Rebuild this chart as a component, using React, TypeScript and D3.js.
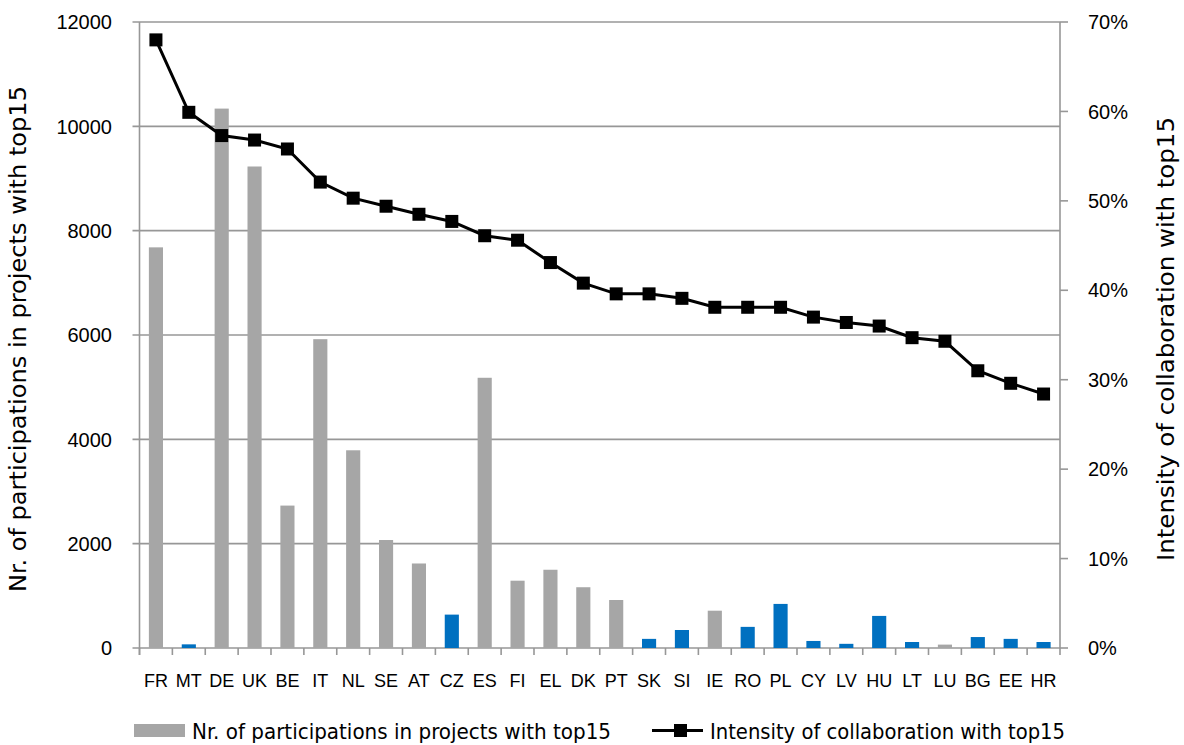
import React from 'react';
import * as d3 from 'd3';

const countries = ['FR', 'MT', 'DE', 'UK', 'BE', 'IT', 'NL', 'SE', 'AT', 'CZ', 'ES', 'FI', 'EL', 'DK', 'PT', 'SK', 'SI', 'IE', 'RO', 'PL', 'CY', 'LV', 'HU', 'LT', 'LU', 'BG', 'EE', 'HR'];
const participations = [7680, 70, 10340, 9230, 2730, 5920, 3790, 2070, 1620, 640, 5180, 1290, 1500, 1165, 920, 175, 345, 715, 405, 845, 135, 80, 615, 115, 65, 210, 175, 115];
// blue = newer member states, grey = the rest
const isBlue = [false, true, false, false, false, false, false, false, false, true, false, false, false, false, false, true, true, false, true, true, true, true, true, true, false, true, true, true];
const intensity = [0.68, 0.599, 0.573, 0.568, 0.558, 0.521, 0.503, 0.494, 0.485, 0.477, 0.461, 0.456, 0.431, 0.408, 0.396, 0.396, 0.391, 0.381, 0.381, 0.381, 0.37, 0.364, 0.36, 0.347, 0.343, 0.31, 0.296, 0.284];
const leftTicks = [0, 2000, 4000, 6000, 8000, 10000, 12000];
const rightTicks = [0, 0.1, 0.2, 0.3, 0.4, 0.5, 0.6, 0.7];

const barTitle = 'Nr. of participations in projects with top15';
const lineTitle = 'Intensity of collaboration with top15';

export default function App() {
  const width = 1184;
  const height = 745;
  const left = 139.5;
  const right = 1060;
  const top = 22;
  const bottom = 648;

  const x = d3.scaleBand<string>().domain(countries).range([left, right]).paddingInner(0.57).paddingOuter(0.285);
  const xb = d3.scaleBand<string>().domain(countries).range([left, right]);
  const yL = d3.scaleLinear().domain([0, 12000]).range([bottom, top]);
  const yR = d3.scaleLinear().domain([0, 0.7]).range([bottom, top]);

  const line = d3
    .line<number>()
    .x((_, i) => xb(countries[i])! + xb.bandwidth() / 2)
    .y((d) => yR(d));

  const grid = '#979797';
  const font = "'Liberation Sans', Arial, sans-serif";
  const narrow = "'Liberation Sans Narrow', 'DejaVu Sans Condensed', sans-serif";

  return (
    <svg width={width} height={height} style={{ position: 'absolute', left: 0, top: 0, background: '#fff' }}>
      {/* gridlines */}
      {leftTicks.map((t) => (
        <line key={t} x1={left - 7} x2={right} y1={yL(t)} y2={yL(t)} stroke={grid} strokeWidth={1.6} />
      ))}
      {/* right axis ticks */}
      {rightTicks.map((t) => (
        <line key={t} x1={right} x2={right + 8} y1={yR(t)} y2={yR(t)} stroke={grid} strokeWidth={1.6} />
      ))}
      {/* category ticks */}
      {countries.map((c) => (
        <line key={c} x1={xb(c)!} x2={xb(c)!} y1={bottom} y2={bottom + 7} stroke={grid} strokeWidth={1.6} />
      ))}
      <line x1={left} x2={left} y1={top} y2={bottom + 7} stroke={grid} strokeWidth={1.6} />
      <line x1={right} x2={right} y1={top} y2={bottom + 7} stroke={grid} strokeWidth={1.6} />

      {/* bars */}
      {participations.map((v, i) => (
        <rect
          key={countries[i]}
          x={x(countries[i])}
          y={yL(v)}
          width={x.bandwidth()}
          height={bottom - yL(v)}
          fill={isBlue[i] ? '#0070C0' : '#A6A6A6'}
        />
      ))}

      {/* line */}
      <path d={line(intensity) ?? ''} fill="none" stroke="#000" strokeWidth={3} />
      {intensity.map((v, i) => (
        <rect
          key={countries[i]}
          x={xb(countries[i])! + xb.bandwidth() / 2 - 6.5}
          y={yR(v) - 6.5}
          width={13}
          height={13}
          fill="#000"
        />
      ))}

      {/* left tick labels */}
      {leftTicks.map((t) => (
        <text key={t} x={112} y={yL(t)} dy="0.36em" textAnchor="end" fontFamily={font} fontSize={20} fill="#000">
          {t}
        </text>
      ))}
      {/* right tick labels */}
      {rightTicks.map((t) => (
        <text key={t} x={1088} y={yR(t)} dy="0.36em" fontFamily={font} fontSize={20} fill="#000">
          {d3.format('.0%')(t)}
        </text>
      ))}
      {/* category labels */}
      {countries.map((c) => (
        <text key={c} x={xb(c)! + xb.bandwidth() / 2} y={687} textAnchor="middle" fontFamily={font} fontSize={18} fill="#000">
          {c}
        </text>
      ))}

      {/* axis titles */}
      <text
        transform={`translate(26, ${(top + bottom) / 2 + 4}) rotate(-90)`}
        textAnchor="middle"
        fontFamily={narrow}
        fontSize={23}
        textLength={506}
        lengthAdjust="spacingAndGlyphs"
      >
        {barTitle}
      </text>
      <text
        transform={`translate(1174, ${(top + bottom) / 2 + 4}) rotate(-90)`}
        textAnchor="middle"
        fontFamily={narrow}
        fontSize={23}
        textLength={444}
        lengthAdjust="spacingAndGlyphs"
      >
        {lineTitle}
      </text>

      {/* legend */}
      <rect x={134} y={724} width={51} height={13} fill="#A6A6A6" />
      <text x={192} y={739} fontFamily={narrow} fontSize={22} textLength={419} lengthAdjust="spacingAndGlyphs">
        Nr. of participations in  projects with top15
      </text>
      <line x1={652} x2={703} y1={730.5} y2={730.5} stroke="#000" strokeWidth={3} />
      <rect x={674} y={724} width={13} height={13} fill="#000" />
      <text x={710} y={739} fontFamily={narrow} fontSize={22} textLength={355} lengthAdjust="spacingAndGlyphs">
        {lineTitle}
      </text>
    </svg>
  );
}
